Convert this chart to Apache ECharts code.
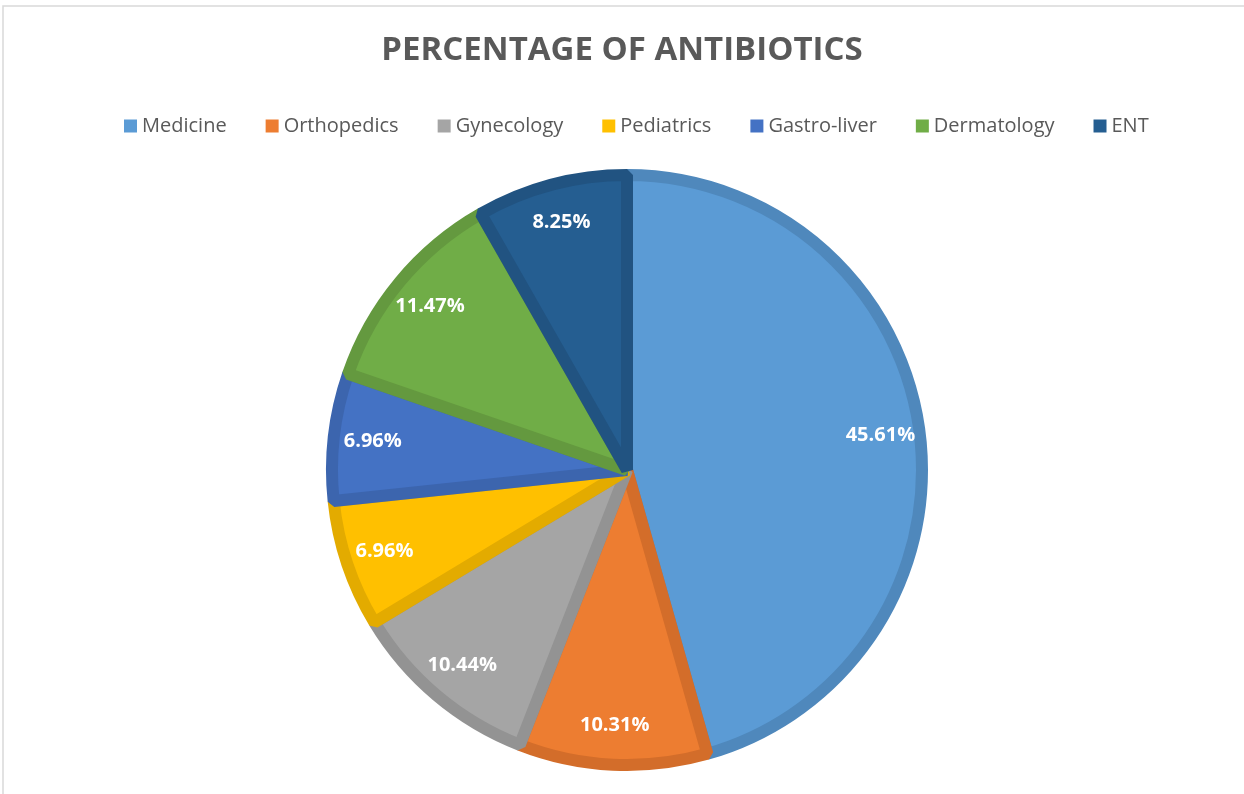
<!DOCTYPE html>
<html>
<head>
<meta charset="utf-8">
<title>Percentage of Antibiotics</title>
<script src="https://cdn.jsdelivr.net/npm/echarts@6/dist/echarts.min.js"></script>
<style>
  html, body { margin: 0; padding: 0; background: #ffffff; }
  #chart { width: 1244px; height: 794px; }
</style>
</head>
<body>
<div id="chart"></div>
<script>
// Departments and their share of antibiotic prescriptions (%)
const departments = ['Medicine', 'Orthopedics', 'Gynecology', 'Pediatrics', 'Gastro-liver', 'Dermatology', 'ENT'];
const shares = [45.61, 10.31, 10.44, 6.96, 6.96, 11.47, 8.25];

// Slice fill and slightly darker edge colour for each department
const fills = ['#5B9BD5', '#ED7D31', '#A5A5A5', '#FFC000', '#4472C4', '#70AD47', '#255E91'];
const edges = ['#4F88BC', '#D36D2A', '#939393', '#E3AB00', '#3C65AE', '#64993F', '#215381'];

const CENTER = [627, 470];
const RADIUS = 295;
const LABEL_FRACTION = 0.85; // labels sit near the rim, as a share of the radius

const chart = echarts.init(document.getElementById('chart'), null, { renderer: 'canvas' });

const option = {
  backgroundColor: '#ffffff',
  animation: false,
  title: {
    text: 'PERCENTAGE OF ANTIBIOTICS',
    left: 'center',
    top: 29,
    textStyle: {
      fontFamily: 'Open Sans',
      fontWeight: 'bold',
      fontSize: 33,
      color: '#595959'
    }
  },
  legend: {
    top: 111,
    left: 119,
    itemWidth: 13,
    itemHeight: 13,
    itemGap: 39,
    icon: 'rect',
    itemStyle: { borderWidth: 0 },
    textStyle: {
      fontFamily: 'Open Sans',
      fontSize: 20,
      color: '#595959'
    },
    data: departments
  },
  graphic: [{
    type: 'rect',
    shape: { x: 3, y: 6, width: 1260, height: 820 },
    style: { fill: 'none', stroke: '#d9d9d9', lineWidth: 1.5 },
    silent: true,
    z: -1
  }],
  series: [{
    type: 'pie',
    center: CENTER,
    radius: RADIUS,
    startAngle: 90,
    clockwise: true,
    avoidLabelOverlap: false,
    data: departments.map((name, i) => ({
      name: name,
      value: shares[i],
      itemStyle: { color: fills[i], borderColor: edges[i] }
    })),
    itemStyle: { borderWidth: 12, borderJoin: 'bevel' },
    label: {
      show: true,
      position: 'inside',
      formatter: p => p.value.toFixed(2) + '%',
      fontFamily: 'Open Sans',
      fontWeight: 'bold',
      fontSize: 20,
      color: '#ffffff'
    },
    labelLine: { show: false },
    // push each inside label out along its slice's bisector toward the rim
    labelLayout: function (p) {
      const r = p.labelRect;
      const lx = r.x + r.width / 2;
      const ly = r.y + r.height / 2;
      const k = LABEL_FRACTION * RADIUS / (RADIUS / 2);
      return {
        x: CENTER[0] + (lx - CENTER[0]) * k,
        y: CENTER[1] + (ly - CENTER[1]) * k,
        align: 'center',
        verticalAlign: 'middle'
      };
    },
    emphasis: { disabled: true }
  }]
};

chart.setOption(option);
</script>
</body>
</html>
